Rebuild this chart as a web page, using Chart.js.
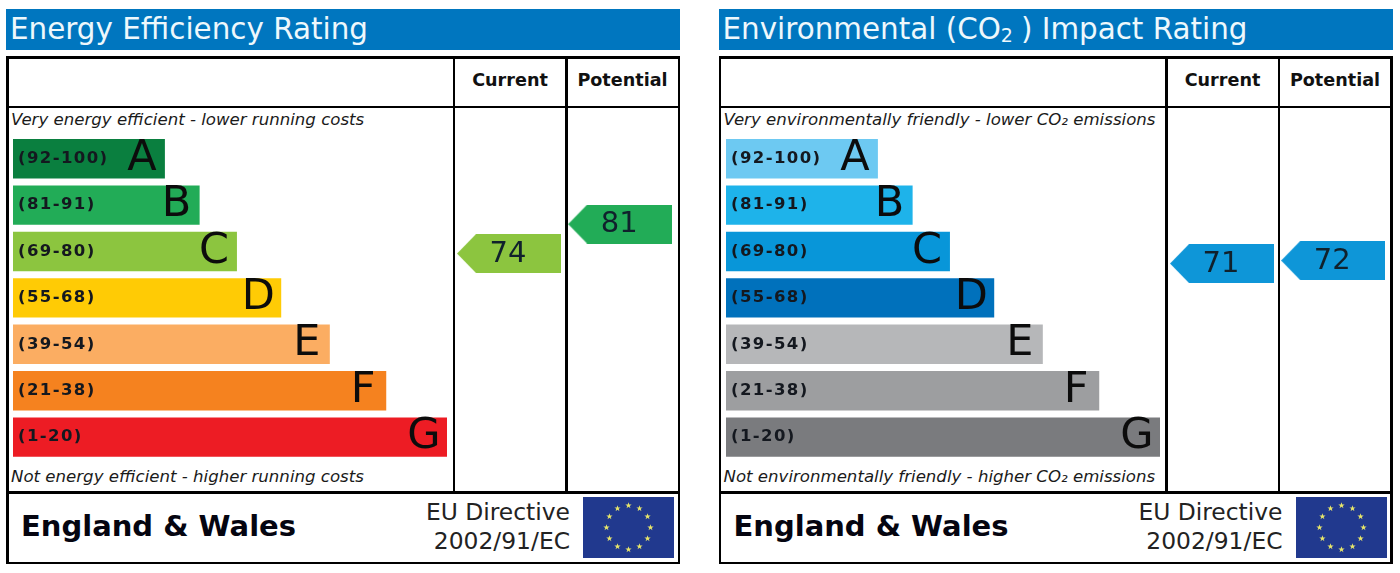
<!DOCTYPE html>
<html><head><meta charset="utf-8">
<script src="https://cdn.jsdelivr.net/npm/chart.js@4"></script>
<style>
html,body{margin:0;padding:0;background:#fff;width:1400px;height:573px;overflow:hidden;font-family:"DejaVu Sans",sans-serif;color:#111}
.panel{position:absolute;top:0;width:676px;height:573px}
.panel div,.panel canvas,.panel svg{position:absolute}
.head{left:0;top:9px;width:674px;height:41px;background:#0076BF;color:#eef8fc;font-size:29.4px;line-height:41px;white-space:nowrap;text-indent:4px}
.head sub{font-size:19px;line-height:0;vertical-align:-3px;margin-right:8px}
.line{background:#000}
.col{top:71px;font-weight:bold;font-size:17.6px;line-height:18px;text-align:center;color:#111}
.note{left:5px;font-style:italic;font-size:16.6px;line-height:18px;white-space:nowrap;color:#1a1a1a}
.country{left:15px;top:509px;font-weight:bold;font-size:29px;line-height:34px;white-space:nowrap;color:#050510}
.dir{right:112px;top:498px;font-size:23.4px;line-height:29px;text-align:right;white-space:nowrap;color:#222}
</style></head><body>
<div id="root"></div>
<script>
const bandLabels = ["(92-100)","(81-91)","(69-80)","(55-68)","(39-54)","(21-38)","(1-20)"];
const bandLetters = ["A","B","C","D","E","F","G"];
const bandFloors = [92,81,69,55,39,21,1];
const bandLengths = [35,43,51.6,61.8,73,86,100];
const energyColours = ["#0A7F3F","#22AC57","#8CC53F","#FFCB05","#FBAD62","#F5821F","#ED1C24"];
const co2Colours = ["#6DC9F2","#1EB3EA","#0896D9","#0071BC","#B6B7B9","#9D9EA0","#7A7B7E"];
const columnNames = ["Current","Potential"];
const columnCentres = [114.3,139.9];
const energyScores = [74,81];
const co2Scores = [71,72];

const OX = 4.34; // px per length unit
function arrowImage(colour){
  const c=document.createElement('canvas');c.width=104;c.height=39;
  const g=c.getContext('2d');g.fillStyle=colour;g.beginPath();
  g.moveTo(0,19.5);g.lineTo(19,0);g.lineTo(104,0);g.lineTo(104,39);g.lineTo(19,39);g.closePath();g.fill();
  return c;
}
const overlay={
  id:'overlay',
  beforeDraw(chart){chart.ctx.letterSpacing='1.4px';},
  afterDatasetsDraw(chart){
    const ctx=chart.ctx;ctx.save();ctx.letterSpacing='0px';
    ctx.textAlign='center';ctx.textBaseline='middle';ctx.fillStyle='#0c0c0c';
    ctx.font='43px "DejaVu Sans"';
    chart.getDatasetMeta(0).data.forEach((bar,i)=>{ctx.fillText(bandLetters[i],bar.x-23,bar.y);});
    ctx.font='29px "DejaVu Sans"';ctx.fillStyle='#10212c';
    chart.getDatasetMeta(1).data.forEach((pt,i)=>{
      ctx.fillText(String(chart.data.datasets[1].data[i].y),pt.x-1,pt.y+0.5);
    });
    ctx.restore();
  }
};
function bandColour(score,colours){return colours[bandFloors.findIndex(f=>score>=f)];}
function flagStars(){
  let s='';
  for(let i=0;i<12;i++){
    const a=i*Math.PI/6,cx=45.5+22*Math.sin(a),cy=30.5-22*Math.cos(a);
    let p=[];
    for(let k=0;k<10;k++){const r=k%2?1.3:3.3,b=k*Math.PI/5;p.push((cx+r*Math.sin(b)).toFixed(2)+','+(cy-r*Math.cos(b)).toFixed(2));}
    s+='<polygon fill="#E8E66A" points="'+p.join(' ')+'"/>';
  }
  return s;
}
function panel(left,title,topNote,bottomNote,colours,scores,scoreMin,scoreMax,arrowFill){
  const el=document.createElement('div');el.className='panel';el.style.left=left+'px';
  const ln=(x,y,w,h)=>'<div class="line" style="left:'+x+'px;top:'+y+'px;width:'+w+'px;height:'+h+'px"></div>';
  el.innerHTML='<div class="head">'+title+'</div>'
   +ln(0,56,674,2.6)+ln(0,105.5,674,2.6)+ln(0,491,674,2.6)+ln(0,561.5,674,2.6)
   +ln(0,56,2.6,508)+ln(671.6,56,2.6,508)+ln(446.8,56,2.4,436)+ln(559.4,56,2.4,436)
   +'<div class="col" style="left:449px;width:110px">'+columnNames[0]+'</div>'
   +'<div class="col" style="left:561px;width:111px">'+columnNames[1]+'</div>'
   +'<div class="note" style="top:111px">'+topNote+'</div>'
   +'<div class="note" style="top:468px">'+bottomNote+'</div>'
   +'<div class="country">England &amp; Wales</div>'
   +'<div class="dir">EU Directive<br>2002/91/EC</div>'
   +'<svg style="left:577px;top:497px" width="91" height="61" viewBox="0 0 91 61"><rect width="91" height="61" fill="#21398E"/>'+flagStars()+'</svg>'
   +'<canvas width="676" height="573" style="left:0;top:0"></canvas>';
  document.getElementById('root').appendChild(el);
  new Chart(el.querySelector('canvas').getContext('2d'),{
    type:'bar',
    plugins:[overlay],
    data:{labels:bandLabels,datasets:[
      {type:'bar',indexAxis:'y',data:bandLengths,backgroundColor:colours,xAxisID:'x',yAxisID:'y',
       categoryPercentage:1,barPercentage:0.85,borderWidth:0},
      {type:'scatter',data:scores.map((v,i)=>({x:columnCentres[i],y:v})),xAxisID:'x',yAxisID:'score',
       pointStyle:scores.map(v=>arrowImage(arrowFill||bandColour(v,colours))),pointRadius:10,showLine:false}
    ]},
    options:{
      responsive:false,animation:false,devicePixelRatio:1,
      layout:{autoPadding:false,padding:{left:7,right:5,top:135.5,bottom:112.7}},
      plugins:{legend:{display:false},tooltip:{enabled:false},title:{display:false}},
      scales:{
        x:{type:'linear',axis:'x',min:0,max:664/OX,offset:false,display:false,grid:{display:false}},
        y:{type:'category',axis:'y',position:'left',offset:true,grid:{display:false,drawTicks:false},border:{display:false},
           afterFit(s){s.width=0;},
           ticks:{mirror:true,z:1,padding:5,color:'#14181f',font:{family:'"DejaVu Sans"',weight:'bold',size:16.5},autoSkip:false,
                  crossAlign:'near'}},
        score:{type:'linear',axis:'y',min:scoreMin,max:scoreMax,display:false,grid:{display:false}}
      }
    }
  });
}
panel(6,'Energy Efficiency Rating','Very energy efficient - lower running costs','Not energy efficient - higher running costs',
  energyColours,energyScores,24.76,102.1);
panel(718.5,'Environmental (CO<sub>2</sub>) Impact Rating','Very environmentally friendly - lower CO₂ emissions','Not environmentally friendly - higher CO₂ emissions',
  co2Colours,co2Scores,5.4,113.67,'#0E96D8');
</script>
</body></html>
